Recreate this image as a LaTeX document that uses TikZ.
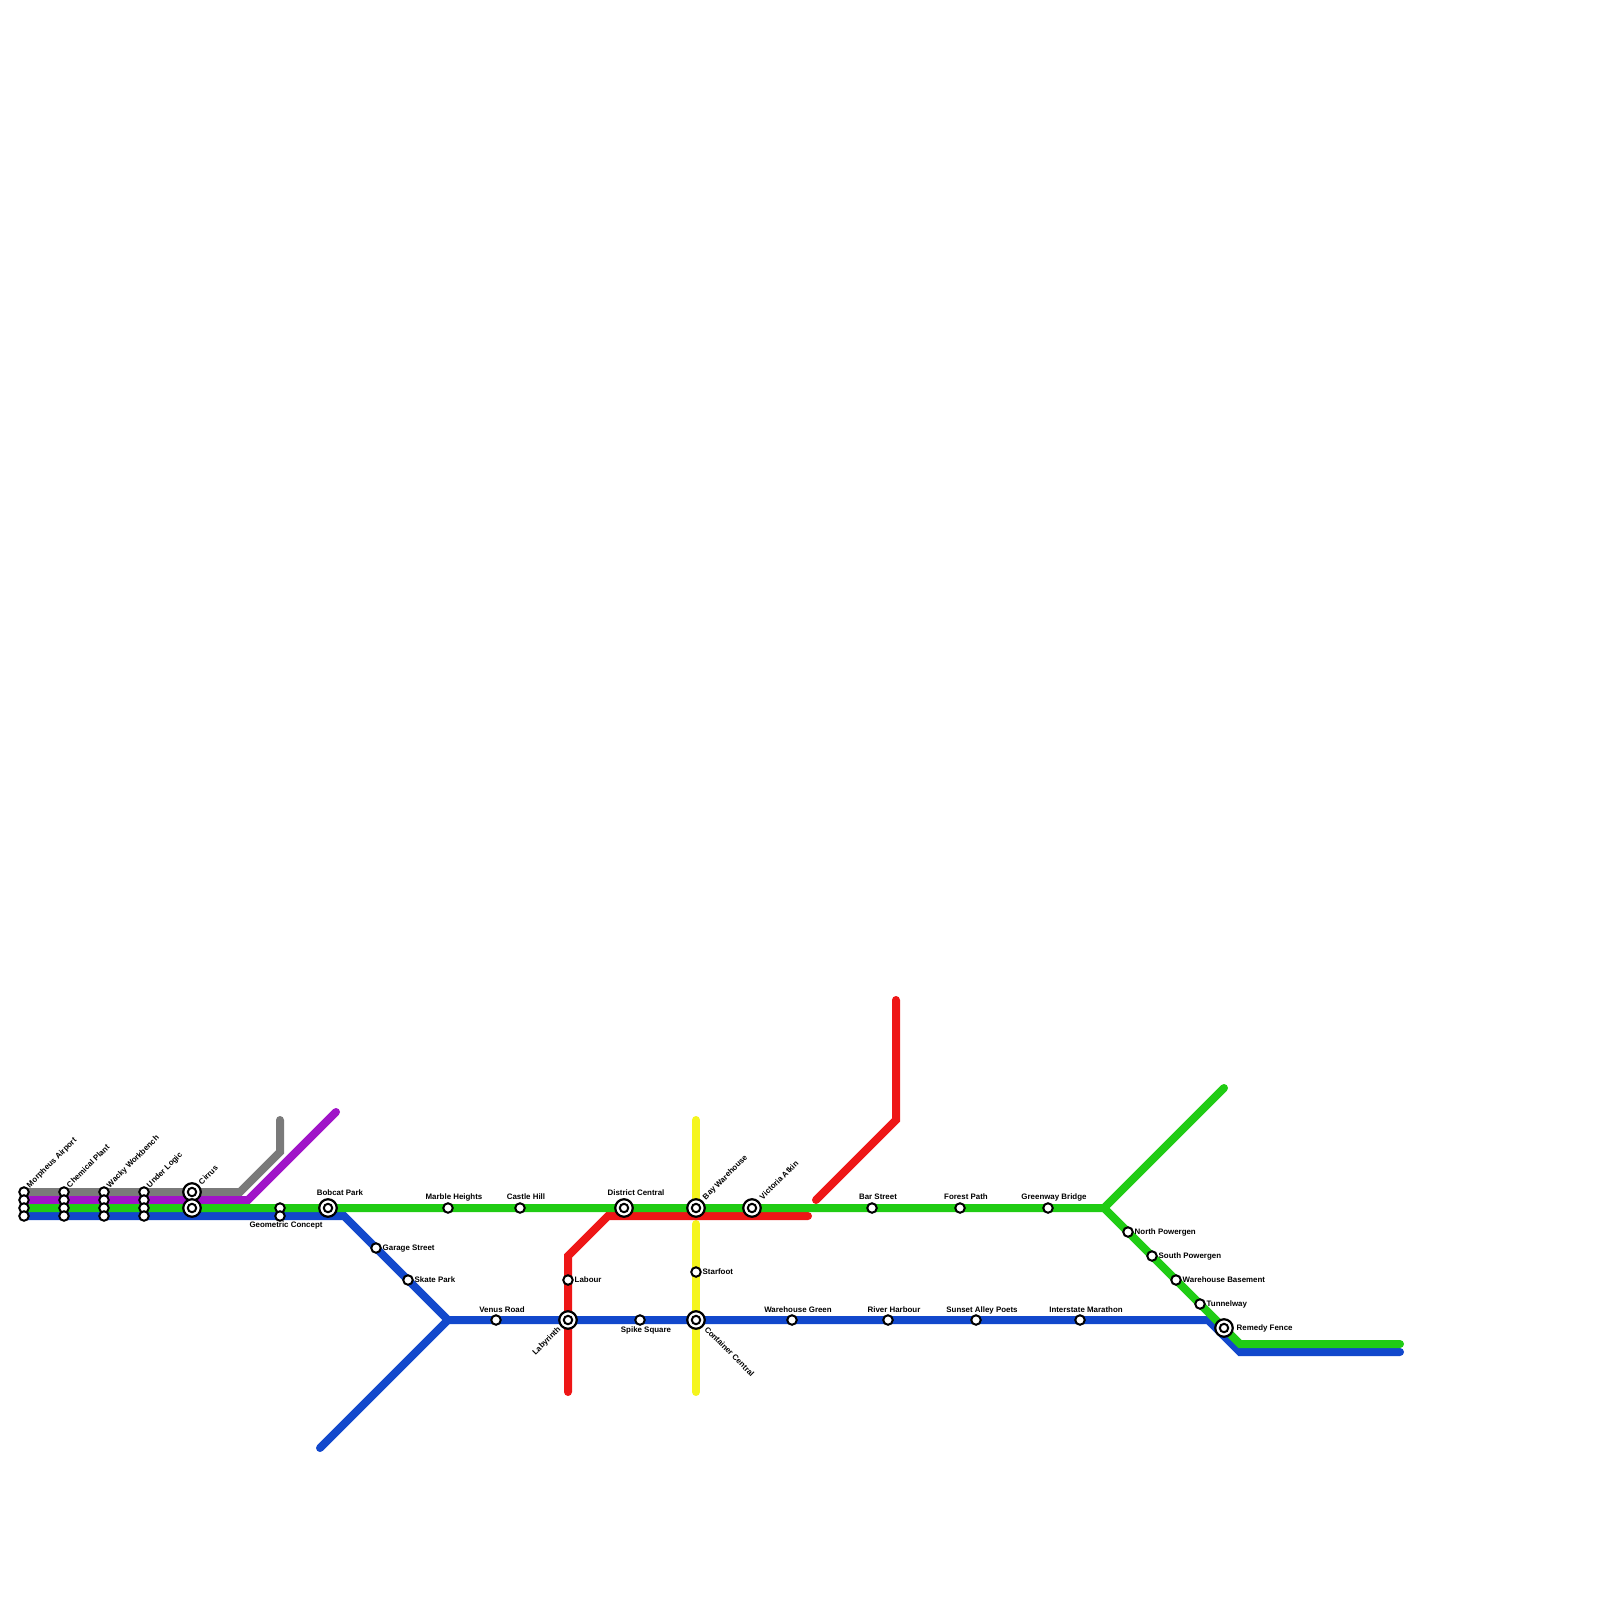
\documentclass[tikz,border=0pt]{standalone}
\usepackage{fontspec}
\setmainfont{Liberation Sans}
\tikzset{
    metro/.style={line width=0.08cm, line cap=round},
    stop/.style={circle, draw=black, fill=white, line width=0.02cm, minimum size=0.095cm, inner sep=0pt},
    hub/.style={circle, draw=black, fill=white, line width=0.022cm, minimum size=0.175cm, inner sep=0pt,
        path picture={\draw[black, line width=0.02cm] (path picture bounding box.center) circle (0.042cm);}},
    stationtext/.style={font=\bfseries\fontsize{2.25}{2.7}\selectfont, inner sep=0pt, text height=1.65pt, text depth=0.45pt},
}
\begin{document}
\begin{tikzpicture}[x=0.01cm, y=-0.01cm]
    \useasboundingbox (0, 0) rectangle (1600, 1600);
    \coordinate (G1) at (24, 1192);
    \coordinate (G2) at (240, 1192);
    \coordinate (G3) at (280, 1152);
    \coordinate (G4) at (280, 1120);
    \coordinate (P1) at (24, 1200);
    \coordinate (P2) at (248, 1200);
    \coordinate (P3) at (336, 1112);
    \coordinate (E1) at (24, 1208);
    \coordinate (E2) at (1104, 1208);
    \coordinate (E3) at (1224, 1088);
    \coordinate (E4) at (1240, 1344);
    \coordinate (E5) at (1400, 1344);
    \coordinate (B1) at (24, 1216);
    \coordinate (B2) at (344, 1216);
    \coordinate (B3) at (448, 1320);
    \coordinate (B4) at (320, 1448);
    \coordinate (B5) at (1208, 1320);
    \coordinate (B6) at (1240, 1352);
    \coordinate (B7) at (1400, 1352);
    \coordinate (R1) at (568, 1392);
    \coordinate (R2) at (568, 1256);
    \coordinate (R3) at (608, 1216);
    \coordinate (R4) at (808, 1216);
    \coordinate (R5) at (816, 1200);
    \coordinate (R6) at (896, 1120);
    \coordinate (R7) at (896, 1000);
    \coordinate (Y1) at (696, 1120);
    \coordinate (Y2) at (696, 1204);
    \coordinate (Y3) at (696, 1224);
    \coordinate (Y4) at (696, 1392);
    \draw[metro, color={rgb,255:red,245;green,245;blue,30}] (Y1) -- (Y2);
    \draw[metro, color={rgb,255:red,245;green,245;blue,30}] (Y3) -- (Y4);
    \draw[metro, color={rgb,255:red,238;green,22;blue,22}] (R1) -- (R2) -- (R3) -- (R4);
    \draw[metro, color={rgb,255:red,238;green,22;blue,22}] (R5) -- (R6) -- (R7);
    \draw[metro, color={rgb,255:red,122;green,122;blue,122}] (G1) -- (G2) -- (G3) -- (G4);
    \draw[metro, color={rgb,255:red,160;green,20;blue,200}] (P1) -- (P2) -- (P3);
    \draw[metro, color={rgb,255:red,18;green,72;blue,204}] (B1) -- (B2) -- (B3) -- (B4);
    \draw[metro, color={rgb,255:red,18;green,72;blue,204}] (B3) -- (B5) -- (B6) -- (B7);
    \draw[metro, color={rgb,255:red,32;green,204;blue,20}] (E1) -- (E2) -- (E3);
    \draw[metro, color={rgb,255:red,32;green,204;blue,20}] (E2) -- (E4) -- (E5);
    \node[stop] (morpheusA) at (24, 1192) {};
    \node[stop] (morpheusB) at (24, 1200) {};
    \node[stop] (morpheusC) at (24, 1208) {};
    \node[stop] (morpheusD) at (24, 1216) {};
    \node[stop] (chemicalA) at (64, 1192) {};
    \node[stop] (chemicalB) at (64, 1200) {};
    \node[stop] (chemicalC) at (64, 1208) {};
    \node[stop] (chemicalD) at (64, 1216) {};
    \node[stop] (wackyA) at (104, 1192) {};
    \node[stop] (wackyB) at (104, 1200) {};
    \node[stop] (wackyC) at (104, 1208) {};
    \node[stop] (wackyD) at (104, 1216) {};
    \node[stop] (logicA) at (144, 1192) {};
    \node[stop] (logicB) at (144, 1200) {};
    \node[stop] (logicC) at (144, 1208) {};
    \node[stop] (logicD) at (144, 1216) {};
    \node[hub] (cirrusA) at (192, 1192) {};
    \node[hub] (cirrusB) at (192, 1208) {};
    \node[stop] (geometricA) at (280, 1208) {};
    \node[stop] (geometricB) at (280, 1216) {};
    \node[hub] (bobcat) at (328, 1208) {};
    \node[stop] (garage) at (376, 1248) {};
    \node[stop] (skate) at (408, 1280) {};
    \node[stop] (marble) at (448, 1208) {};
    \node[stop] (castle) at (520, 1208) {};
    \node[hub] (district) at (624, 1208) {};
    \node[hub] (bay) at (696, 1208) {};
    \node[hub] (victoria) at (752, 1208) {};
    \node[stop] (bar) at (872, 1208) {};
    \node[stop] (forest) at (960, 1208) {};
    \node[stop] (greenway) at (1048, 1208) {};
    \node[stop] (venus) at (496, 1320) {};
    \node[stop] (labour) at (568, 1280) {};
    \node[hub] (labyrinth) at (568, 1320) {};
    \node[stop] (spike) at (640, 1320) {};
    \node[stop] (starfoot) at (696, 1272) {};
    \node[hub] (container) at (696, 1320) {};
    \node[stop] (green) at (792, 1320) {};
    \node[stop] (river) at (888, 1320) {};
    \node[stop] (sunset) at (976, 1320) {};
    \node[stop] (interstate) at (1080, 1320) {};
    \node[stop] (north) at (1128, 1232) {};
    \node[stop] (south) at (1152, 1256) {};
    \node[stop] (basement) at (1176, 1280) {};
    \node[stop] (tunnel) at (1200, 1304) {};
    \node[hub] (remedy) at (1224, 1328) {};
    \node[stationtext, anchor=west, rotate=45] (morpheusT) at (28, 1187) {Morpheus Airport};
    \node[stationtext, anchor=west, rotate=45] (chemicalT) at (68, 1187) {Chemical Plant};
    \node[stationtext, anchor=west, rotate=45] (wackyT) at (108, 1187) {Wacky Workbench};
    \node[stationtext, anchor=west, rotate=45] (logicT) at (148, 1187) {Under Logic};
    \node[stationtext, anchor=west, rotate=45] (cirrusT) at (200, 1184) {Cirrus};
    \node[stationtext] (geometricT) at (286, 1225) {Geometric Concept};
    \node[stationtext] (bobcatT) at (340, 1193) {Bobcat Park};
    \node[stationtext, anchor=west] (garageT) at (382, 1248) {Garage Street};
    \node[stationtext, anchor=west] (skateT) at (414, 1280) {Skate Park};
    \node[stationtext] (marbleT) at (454, 1197) {Marble Heights};
    \node[stationtext] (castleT) at (526, 1197) {Castle Hill};
    \node[stationtext] (districtT) at (636, 1193) {District Central};
    \node[stationtext, anchor=west, rotate=45] (bayT) at (704, 1199) {Bay Warehouse};
    \node[stationtext, anchor=west, rotate=45] (victoriaT) at (761, 1199) {Victoria Atkin};
    \node[stationtext] (barT) at (878, 1197) {Bar Street};
    \node[stationtext] (forestT) at (966, 1197) {Forest Path};
    \node[stationtext] (greenwayT) at (1054, 1197) {Greenway Bridge};
    \node[stationtext] (venusT) at (502, 1310) {Venus Road};
    \node[stationtext, anchor=west] (labourT) at (574, 1280) {Labour};
    \node[stationtext, anchor=east, rotate=45] (labyrinthT) at (560, 1328) {Labyrinth};
    \node[stationtext] (spikeT) at (646, 1330) {Spike Square};
    \node[stationtext, anchor=west] (starfootT) at (702, 1272) {Starfoot};
    \node[stationtext, anchor=west, rotate=-45] (containerT) at (705, 1328) {Container Central};
    \node[stationtext] (greenT) at (798, 1310) {Warehouse Green};
    \node[stationtext] (riverT) at (894, 1310) {River Harbour};
    \node[stationtext] (sunsetT) at (982, 1310) {Sunset Alley Poets};
    \node[stationtext] (interstateT) at (1086, 1310) {Interstate Marathon};
    \node[stationtext, anchor=west] (northT) at (1134, 1232) {North Powergen};
    \node[stationtext, anchor=west] (southT) at (1158, 1256) {South Powergen};
    \node[stationtext, anchor=west] (basementT) at (1182, 1280) {Warehouse Basement};
    \node[stationtext, anchor=west] (tunnelT) at (1206, 1304) {Tunnelway};
    \node[stationtext, anchor=west] (remedyT) at (1236, 1328) {Remedy Fence};
\end{tikzpicture}
\end{document}
